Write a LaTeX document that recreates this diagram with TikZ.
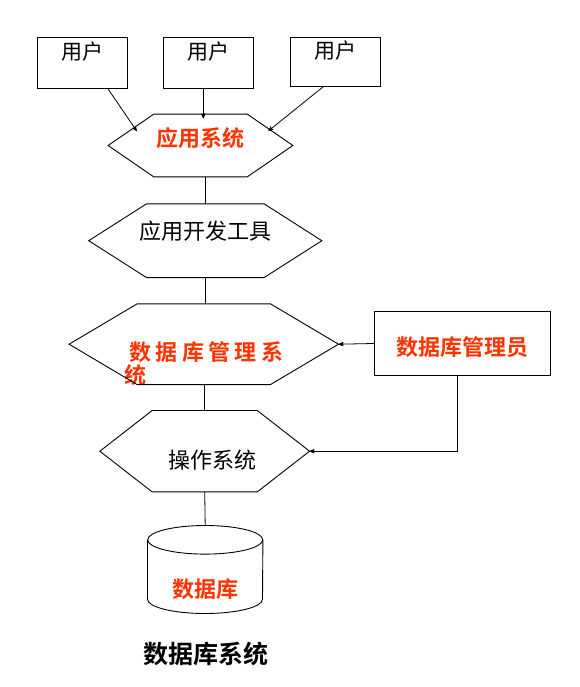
\documentclass[tikz,border=0pt]{standalone}
\usepackage{fontspec}
\setmainfont{Noto Sans CJK SC}[BoldFont={Noto Sans CJK SC Bold}]
\usepackage{xcolor}
\usepackage{tikz}
\usetikzlibrary{arrows}

\definecolor{sysred}{RGB}{255,51,0}
\newcommand{\hexout}[2]{\draw[line width=0.9pt] (#1.west) -- ([xshift=#2]#1.north west) -- ([xshift=-#2]#1.north east) -- (#1.east) -- ([xshift=-#2]#1.south east) -- ([xshift=#2]#1.south west) -- cycle;}

\begin{document}
\begin{tikzpicture}[x=1pt,y=-1pt,>=stealth',
	every node/.style={inner sep=0pt},
	userbox/.style={draw,line width=1pt,minimum width=90pt,minimum height=51pt,font=\fontsize{21}{24}\selectfont,text height=19pt,text depth=25.6pt},
	redtext/.style={text=sysred,font=\fontsize{22}{23.3}\selectfont\bfseries},
	blacktext/.style={font=\fontsize{22}{24}\selectfont}]
		\useasboundingbox (0,0) rectangle (579,687);
		\node[userbox] (u1) at (82.3,63.3) {用户};
		\node[userbox] (u2) at (208,62.8) {用户};
		\node[userbox,minimum height=49pt] (u3) at (335.3,61.7) {用户};
		\node[redtext,minimum width=184.4pt,minimum height=62.4pt,text height=20pt,text depth=18.3pt] (app) at (200.5,145.5) {应用系统};
		\node[blacktext,minimum width=232.7pt,minimum height=73.3pt,text height=20pt,text depth=23.3pt] (tool) at (205.3,240.7) {应用开发工具};
		\node[redtext,align=left,minimum width=269pt,minimum height=80.3pt,text height=79pt,text depth=0.6pt] (dbms) at (203.8,344.2) {\hspace*{5pt}数\hspace{4.3pt}据\hspace{4.3pt}库\hspace{4.3pt}管\hspace{4.3pt}理\hspace{4.3pt}系\\统};
		\node[redtext,draw=black,line width=1pt,minimum width=176.4pt,minimum height=63.6pt,text height=25pt,text depth=1.9pt] (admin) at (462.5,343.5) {数据库管理员};
		\node[blacktext,minimum width=209.3pt,minimum height=81pt,text height=36pt,text depth=1.7pt] (os) at (204.7,451.2) {\hspace*{15pt}操作系统};
		\node[redtext,minimum width=115pt,minimum height=59pt,text height=56pt,text depth=1pt] (db) at (205.2,569.5) {数据库};
		\node[font=\fontsize{25}{28}\selectfont\bfseries] (cap) at (205.8,654) {数据库系统};
		\coordinate (in1) at (136.7,131);
		\coordinate (in2) at (203.3,118.3);
		\coordinate (in3) at (268.3,131);
		%
		\hexout{app}{45.7pt}
		\hexout{tool}{57.7pt}
		\hexout{dbms}{68pt}
		\hexout{os}{52.3pt}
		\draw[line width=0.9pt] (db.north) ellipse [x radius=57.5pt,y radius=14.3pt];
		\draw[line width=0.9pt] (db.north west) -- (db.south west) arc [start angle=180,end angle=360,x radius=57.5pt,y radius=14.3pt] -- (db.north east);
		%
		\path[->,line width=0.8pt]
		([xshift=26pt]u1.south) edge (in1)
		([xshift=-4.7pt]u2.south) edge (in2)
		([xshift=-12pt]u3.south) edge (in3)
		(admin.west) edge (dbms.east);
		\draw[line width=0.8pt] (tool.north) -- (tool.north |- app.south);
		\draw[line width=0.8pt] (tool.south) -- (tool.south |- dbms.north);
		\draw[line width=0.8pt] (os.north) -- (os.north |- dbms.south);
		\draw[line width=0.8pt] (os.south) -- ([yshift=14.3pt]db.north);
		\draw[->,line width=0.8pt] ([xshift=-4.8pt]admin.south) |- (os.east);
\end{tikzpicture}
\end{document}
